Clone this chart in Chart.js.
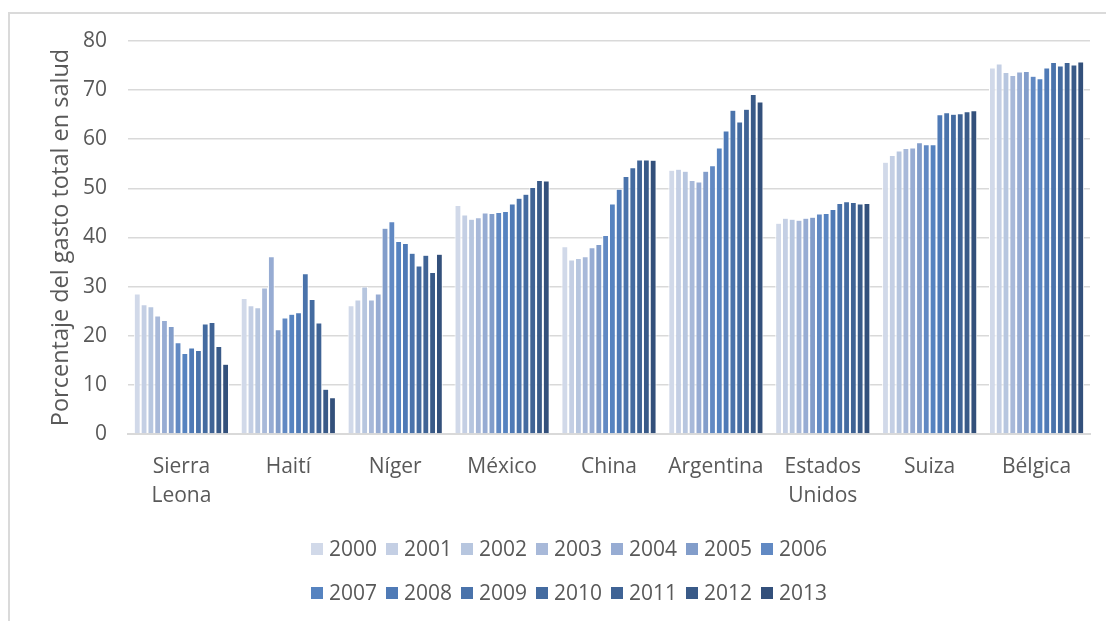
<!DOCTYPE html>
<html>
<head>
<meta charset="utf-8">
<title>Gasto en salud</title>
<script src="https://cdn.jsdelivr.net/npm/chart.js@4.4.0/dist/chart.umd.min.js"></script>
<style>
  html, body { margin: 0; padding: 0; background: #fff; }
  #wrap { position: relative; width: 1106px; height: 621px; overflow: hidden; }
  #frame { position: absolute; left: 8px; top: 12px; width: 1200px; height: 700px;
           border-left: 2px solid #dadada; border-top: 2px solid #dadada; pointer-events: none; }
  #chart { position: absolute; left: 0; top: 0; }
</style>
</head>
<body>
<div id="wrap">
  <div id="frame"></div>
  <canvas id="chart" width="1106" height="621"></canvas>
</div>
<script>
// countries on the x axis
const categories = [
  ['Sierra', 'Leona'], 'Haití', 'Níger', 'México', 'China', 'Argentina',
  ['Estados', 'Unidos'], 'Suiza', 'Bélgica'
];
const years = ['2000', '2001', '2002', '2003', '2004', '2005', '2006',
               '2007', '2008', '2009', '2010', '2011', '2012', '2013'];

// public share of total health spending, 2000..2013, per country
const sierraLeone = [28.5, 26.3, 25.9, 24.0, 23.1, 21.9, 18.6, 16.4, 17.5, 17.0, 22.4, 22.7, 17.8, 14.2];
const haiti       = [27.6, 26.1, 25.7, 29.7, 36.1, 21.2, 23.6, 24.4, 24.7, 32.6, 27.4, 22.6, 9.1, 7.4];
const niger       = [26.1, 27.3, 29.9, 27.3, 28.5, 41.9, 43.2, 39.2, 38.8, 36.8, 34.2, 36.4, 32.9, 36.6];
const mexico      = [46.5, 44.6, 43.7, 44.0, 45.0, 44.9, 45.1, 45.3, 46.8, 48.0, 48.8, 50.2, 51.6, 51.5];
const china       = [38.1, 35.4, 35.7, 36.1, 37.9, 38.6, 40.4, 46.8, 49.8, 52.4, 54.2, 55.8, 55.8, 55.7];
const argentina   = [53.7, 53.9, 53.5, 51.6, 51.3, 53.5, 54.6, 58.2, 61.7, 65.9, 63.5, 66.1, 69.1, 67.6];
const usa         = [42.9, 43.9, 43.7, 43.5, 43.9, 44.1, 44.8, 44.9, 45.7, 46.9, 47.3, 47.1, 46.8, 46.9];
const suiza       = [55.3, 56.7, 57.6, 58.1, 58.2, 59.3, 58.9, 58.9, 65.0, 65.4, 65.1, 65.2, 65.6, 65.8];
const belgica     = [74.5, 75.3, 73.6, 73.0, 73.7, 73.8, 72.8, 72.3, 74.5, 75.6, 74.9, 75.6, 75.1, 75.7];

const yTicks = [0, 10, 20, 30, 40, 50, 60, 70, 80];

// light to dark blue, one shade per year
const yearColors = ['#d1d9e9', '#c4cfe4', '#b7c6df', '#a8b9d9', '#97acd3', '#829dca', '#6189c3',
                    '#5683c0', '#4f7ab6', '#4a73ab', '#446ba0', '#3f6395', '#395a88', '#33507b'];

const textColor = '#595959';
const fontFamily = '"Open Sans", "DejaVu Sans", sans-serif';

const countryRows = [sierraLeone, haiti, niger, mexico, china, argentina, usa, suiza, belgica];

// one dataset per year, one bar per country
const datasets = years.map((year, i) => ({
  label: year,
  data: countryRows.map(row => row[i]),
  backgroundColor: yearColors[i],
  borderColor: '#ffffff',
  borderWidth: { left: 1, right: 1, top: 0.5, bottom: 0 },
  categoryPercentage: 0.89,
  barPercentage: 1.0
}));

// legend in two rows of seven, centred under the plot
const twoRowLegend = {
  id: 'twoRowLegend',
  afterDraw(chart) {
    const ctx = chart.ctx;
    const box = 12, gap = 6, spacing = 9;
    const centerX = 569;
    const rowY = [549, 593];
    ctx.save();
    ctx.font = '21px ' + fontFamily;
    ctx.textBaseline = 'middle';
    [0, 7].forEach((start, r) => {
      const items = chart.data.datasets.slice(start, start + 7);
      const widths = items.map(ds => box + gap + ctx.measureText(ds.label).width);
      const total = widths.reduce((a, b) => a + b, 0) + spacing * (items.length - 1);
      let x = centerX - total / 2;
      items.forEach((ds, i) => {
        ctx.fillStyle = ds.backgroundColor;
        ctx.fillRect(Math.round(x), rowY[r] - box / 2, box, box);
        ctx.fillStyle = textColor;
        ctx.fillText(ds.label, x + box + gap, rowY[r] + 1);
        x += widths[i] + spacing;
      });
    });
    ctx.restore();
  }
};

function draw() {
  Chart.defaults.font.family = fontFamily;
  Chart.defaults.color = textColor;

  new Chart(document.getElementById('chart'), {
    type: 'bar',
    data: { labels: categories, datasets: datasets },
    options: {
      responsive: false,
      animation: false,
      devicePixelRatio: 1,
      layout: { padding: { left: 0, right: 16, top: 41, bottom: 0 } },
      plugins: {
        legend: { display: false },
        tooltip: { enabled: false }
      },
      scales: {
        x: {
          grid: { display: false, drawTicks: false },
          border: { display: true, color: '#d9d9d9', width: 2 },
          ticks: { padding: 19, color: textColor, font: { size: 21, lineHeight: 1.35 }, maxRotation: 0, autoSkip: false },
          afterFit(scale) { scale.height = 187; }
        },
        y: {
          min: 0,
          max: 80,
          afterBuildTicks(scale) { scale.ticks = yTicks.map(v => ({ value: v })); },
          grid: { color: '#d9d9d9', lineWidth: 1.6, drawTicks: false },
          border: { display: false },
          ticks: { padding: 21, color: textColor, font: { size: 21 } },
          title: {
            display: true,
            text: 'Porcentaje del gasto total en salud',
            color: textColor,
            font: { size: 23.5 },
            padding: { top: 47, bottom: 0 }
          },
          afterFit(scale) { scale.width = 128; }
        }
      }
    },
    plugins: [twoRowLegend]
  });
}

document.fonts.load('21px "Open Sans"').then(draw, draw);
</script>
</body>
</html>
